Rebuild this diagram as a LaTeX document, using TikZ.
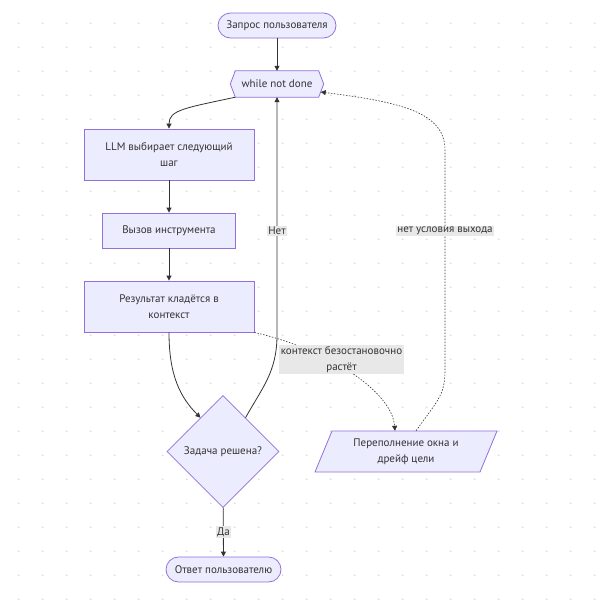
\documentclass[tikz,border=0pt]{standalone}
\usepackage{fontspec}
\setmainfont{PT Sans}
\usetikzlibrary{shapes.geometric,arrows.meta,calc,backgrounds}
\definecolor{nodefill}{HTML}{ECECFF}
\definecolor{nodeline}{HTML}{9370DB}
\definecolor{edgec}{HTML}{333333}
\definecolor{lblfill}{HTML}{E8E8E8}
\definecolor{dotc}{HTML}{DADADA}
\begin{document}
\begin{tikzpicture}[x=1pt,y=-1pt,
  font=\fontsize{11}{16}\selectfont, text=edgec,
  box/.style={draw=nodeline, fill=nodefill, line width=0.8pt, align=center, inner sep=0pt},
  proc/.style={box, minimum width=170pt, minimum height=51pt},
  stadium/.style={box, rounded corners=12.5pt, minimum height=25pt},
  ghost/.style={align=center, inner sep=0pt},
  polyline/.style={draw=nodeline, fill=nodefill, line width=0.8pt},
  arr/.style={draw=edgec, line width=0.8pt, -{Triangle[length=5pt,width=5pt]}},
  dotarr/.style={arr, line width=0.6pt, dash pattern=on 1.5pt off 1.5pt},
  lbl/.style={fill=lblfill, inner sep=1.5pt, align=center}]
\useasboundingbox (0,0) rectangle (596,600);
\begin{pgfonlayer}{background}
  \fill[white] (0,0) rectangle (596,600);
  \foreach \i in {0,...,24}{
    \foreach \j in {0,...,24}{
      \fill[dotc] ({18.7+24*\i},{23.3+24*\j}) circle (0.9);
    }
  }
\end{pgfonlayer}

% nodes
\node[stadium, minimum width=118pt] (q) at (277,25.5) {Запрос пользователя};
\node[ghost, minimum width=83pt, minimum height=26pt] (w) at (277,84) {while not done};
\node[proc] (llm) at (169,154.5) {LLM выбирает следующий\\шаг};
\node[box, minimum width=133pt, minimum height=35pt] (call) at (169,230.5) {Вызов инструмента};
\node[proc] (res) at (169,306.5) {Результат кладётся в\\контекст};
\node[box, diamond, minimum width=112pt, minimum height=112pt] (dec) at (223,451.5) {Задача решена?};
\node[stadium, minimum width=115pt] (ans) at (223.5,569.5) {Ответ пользователю};
\node[ghost, minimum width=148pt, minimum height=41pt] (ovf) at (406,451.5) {Переполнение окна и\\дрейф цели};

\begin{pgfonlayer}{background}
  \draw[polyline] (w.north west) -- (w.north east) -- ($(w.east)+(5,0)$) -- (w.south east)
    -- (w.south west) -- ($(w.west)+(-5,0)$) -- cycle;
  \draw[polyline] ($(ovf.center)+(-91,20.5)$) -- ($(ovf.center)+(-74,-20.5)$)
    -- ($(ovf.center)+(91,-20.5)$) -- ($(ovf.center)+(74,20.5)$) -- cycle;
\end{pgfonlayer}

% edges
\draw[arr] (q) -- (w);
\draw[arr] (w.south west) .. controls (185,108) and (169,110) .. (llm.north);
\draw[arr] (llm) -- (call);
\draw[arr] (call) -- (res);
\draw[arr] (res.south) .. controls (169,375) and (180,397) .. ($(dec.north)!0.4!(dec.west)$);
\draw[arr] ($(dec.north)!0.4!(dec.east)$) .. controls (262,388) and (277,372) .. (277,335) -- (w.south);
\draw[arr] (dec) -- (ans);
\draw[dotarr] (res.south east) .. controls (330,350) and (392,392) .. ($(ovf.north)+(-11,0)$);
\draw[dotarr] ($(ovf.north)+(10,0)$) .. controls (438,400) and (445,395) .. (445,370)
  -- (445,150) .. controls (445,112) and (400,102) .. ($(w.east)+(2,8)$);

% edge labels
\node[lbl] (lno) at (277,231) {Нет};
\node[lbl] (lyes) at (223.5,532) {Да};
\node[lbl] (lctx) at (341.5,359.5) {контекст безостановочно\\растёт};
\node[lbl] (lexit) at (445,231) {нет условия выхода};
\end{tikzpicture}
\end{document}
